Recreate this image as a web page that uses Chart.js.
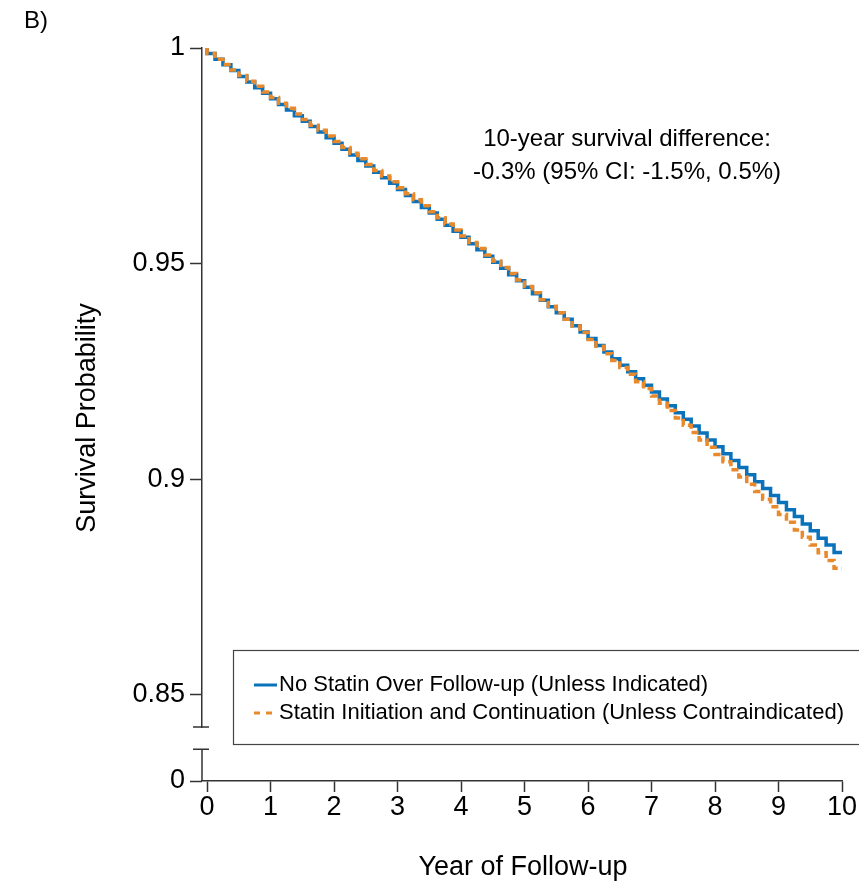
<!DOCTYPE html>
<html>
<head>
<meta charset="utf-8">
<script src="https://cdn.jsdelivr.net/npm/chart.js@4.4.1/dist/chart.umd.min.js"></script>
<style>
    body { margin: 0; background: #fff; }
    canvas { display: block; }
</style>
</head>
<body>
<canvas id="km" width="859" height="883"></canvas>
<script>
// follow-up times (years) where the curves step
const stepYears = [
    0, 0.125, 0.25, 0.375, 0.5, 0.625, 0.75, 0.875,
    1, 1.125, 1.25, 1.375, 1.5, 1.625, 1.75, 1.875,
    2, 2.125, 2.25, 2.375, 2.5, 2.625, 2.75, 2.875,
    3, 3.125, 3.25, 3.375, 3.5, 3.625, 3.75, 3.875,
    4, 4.125, 4.25, 4.375, 4.5, 4.625, 4.75, 4.875,
    5, 5.125, 5.25, 5.375, 5.5, 5.625, 5.75, 5.875,
    6, 6.125, 6.25, 6.375, 6.5, 6.625, 6.75, 6.875,
    7, 7.125, 7.25, 7.375, 7.5, 7.625, 7.75, 7.875,
    8, 8.125, 8.25, 8.375, 8.5, 8.625, 8.75, 8.875,
    9, 9.125, 9.25, 9.375, 9.5, 9.625, 9.75, 9.875,
    10
];

// survival
const noStatin = [
    1.0000, 0.9987, 0.9974, 0.9961, 0.9948, 0.9934, 0.9921, 0.9908,
    0.9895, 0.9882, 0.9869, 0.9856, 0.9843, 0.9830, 0.9818, 0.9805,
    0.9792, 0.9779, 0.9765, 0.9752, 0.9739, 0.9726, 0.9712, 0.9699,
    0.9686, 0.9672, 0.9658, 0.9644, 0.9630, 0.9617, 0.9603, 0.9589,
    0.9575, 0.9561, 0.9546, 0.9532, 0.9517, 0.9503, 0.9489, 0.9474,
    0.9460, 0.9445, 0.9430, 0.9415, 0.9400, 0.9386, 0.9371, 0.9356,
    0.9341, 0.9326, 0.9310, 0.9295, 0.9279, 0.9264, 0.9249, 0.9233,
    0.9218, 0.9202, 0.9186, 0.9170, 0.9154, 0.9139, 0.9123, 0.9107,
    0.9091, 0.9075, 0.9059, 0.9043, 0.9027, 0.9010, 0.8994, 0.8978,
    0.8962, 0.8946, 0.8929, 0.8913, 0.8896, 0.8880, 0.8863, 0.8847,
    0.8830
];
const statin = [
    1.0000, 0.9987, 0.9974, 0.9962, 0.9949, 0.9936, 0.9923, 0.9911,
    0.9898, 0.9885, 0.9872, 0.9860, 0.9847, 0.9834, 0.9821, 0.9809,
    0.9796, 0.9783, 0.9769, 0.9756, 0.9743, 0.9730, 0.9716, 0.9703,
    0.9690, 0.9676, 0.9662, 0.9648, 0.9634, 0.9620, 0.9606, 0.9592,
    0.9578, 0.9564, 0.9549, 0.9535, 0.9520, 0.9506, 0.9491, 0.9477,
    0.9462, 0.9447, 0.9432, 0.9416, 0.9401, 0.9386, 0.9371, 0.9355,
    0.9340, 0.9324, 0.9308, 0.9291, 0.9275, 0.9259, 0.9243, 0.9226,
    0.9210, 0.9193, 0.9176, 0.9159, 0.9142, 0.9125, 0.9108, 0.9091,
    0.9074, 0.9057, 0.9040, 0.9022, 0.9005, 0.8988, 0.8971, 0.8953,
    0.8936, 0.8918, 0.8900, 0.8882, 0.8865, 0.8847, 0.8829, 0.8811,
    0.8793
];

const xTicks = [0, 1, 2, 3, 4, 5, 6, 7, 8, 9, 10];
const yTicks = [0.85, 0.9, 0.95, 1];
const yLowTicks = [0];
const seriesLabels = [
    'No Statin Over Follow-up (Unless Indicated)',
    'Statin Initiation and Continuation (Unless Contraindicated)'
];
const noteLines = ['10-year survival difference:', '-0.3% (95% CI: -1.5%, 0.5%)'];

const BLUE = '#0a72ba';
const ORANGE = '#e8892c';
const AXIS = '#333333';
const FONT = 'Liberation Sans, Arial, sans-serif';
const tickFont = { family: FONT, size: 27 };

const toPoints = (vals) => vals.map((v, i) => ({ x: stepYears[i], y: v }));

const extras = {
    id: 'extras',
    afterDraw(chart) {
        const { ctx, chartArea, scales } = chart;
        const y2 = scales.y2;
        const axisX = chartArea.left;
        ctx.save();

        // lower axis segment + break marks
        const segTop = y2.getPixelForValue(0.59);
        ctx.strokeStyle = AXIS;
        ctx.lineWidth = 1.5;
        ctx.beginPath();
        ctx.moveTo(axisX, segTop);
        ctx.lineTo(axisX, chartArea.bottom);
        ctx.moveTo(axisX - 9, y2.top);
        ctx.lineTo(axisX + 7, y2.top);
        ctx.moveTo(axisX - 9, segTop);
        ctx.lineTo(axisX + 7, segTop);
        ctx.stroke();

        // panel label
        ctx.fillStyle = '#000';
        ctx.font = `24px ${FONT}`;
        ctx.textAlign = 'left';
        ctx.textBaseline = 'middle';
        ctx.fillText('B)', 24, 21);

        // axis titles
        ctx.font = `27px ${FONT}`;
        ctx.textAlign = 'center';
        ctx.fillText('Year of Follow-up', 523, 868);
        ctx.save();
        ctx.translate(88, 418);
        ctx.rotate(-Math.PI / 2);
        ctx.fillText('Survival Probability', 0, 0);
        ctx.restore();

        // note
        ctx.font = `24px ${FONT}`;
        ctx.textAlign = 'center';
        ctx.fillText(noteLines[0], 627, 139);
        ctx.fillText(noteLines[1], 627, 172);

        // legend box
        ctx.strokeStyle = '#444';
        ctx.lineWidth = 1.2;
        ctx.strokeRect(233.5, 650.5, 640, 94);
        const rows = [685, 713];
        chart.data.datasets.forEach((ds, i) => {
            ctx.strokeStyle = ds.borderColor;
            ctx.lineWidth = 3;
            ctx.setLineDash(ds.borderDash ? [6, 6] : []);
            ctx.beginPath();
            ctx.moveTo(254, rows[i]);
            ctx.lineTo(277, rows[i]);
            ctx.stroke();
            ctx.setLineDash([]);
            ctx.fillStyle = '#000';
            ctx.font = `22px ${FONT}`;
            ctx.textAlign = 'left';
            ctx.fillText(ds.label, 279, rows[i]);
        });
        ctx.restore();
    }
};

new Chart(document.getElementById('km').getContext('2d'), {
    type: 'line',
    data: {
        datasets: [
            {
                label: seriesLabels[0],
                data: toPoints(noStatin),
                borderColor: BLUE,
                borderWidth: 3.5,
                stepped: 'after',
                pointRadius: 0,
                yAxisID: 'y',
                order: 1,
            },
            {
                label: seriesLabels[1],
                data: toPoints(statin),
                borderColor: ORANGE,
                borderWidth: 3.5,
                borderDash: [7, 4],
                stepped: 'after',
                pointRadius: 0,
                yAxisID: 'y',
                order: 0,
            },
        ],
    },
    options: {
        responsive: false,
        animation: false,
        layout: { padding: { top: 48, right: 17, left: 0, bottom: 0 } },
        plugins: { legend: { display: false }, tooltip: { enabled: false } },
        scales: {
            x: {
                type: 'linear',
                min: -0.08,
                max: 10,
                afterBuildTicks: (s) => { s.ticks = xTicks.map((v) => ({ value: v })); },
                afterFit: (s) => { s.height = 102; },
                grid: { drawOnChartArea: false, tickLength: 11, color: AXIS, tickWidth: 1.5 },
                border: { color: AXIS, width: 1.5 },
                ticks: { font: tickFont, color: '#000', padding: -1, maxRotation: 0 },
            },
            y: {
                type: 'linear',
                position: 'left',
                stack: 'left',
                stackWeight: 679,
                weight: 1,
                min: 0.8425,
                max: 1,
                afterBuildTicks: (s) => { s.ticks = yTicks.map((v) => ({ value: v })); },
                afterFit: (s) => { s.width = 202; },
                grid: { drawOnChartArea: false, tickLength: 12, color: AXIS, tickWidth: 1.5 },
                border: { color: AXIS, width: 1.5 },
                ticks: {
                    font: tickFont,
                    color: '#000',
                    padding: 5,
                    callback: (v) => String(+v.toFixed(2)),
                },
            },
            y2: {
                type: 'linear',
                position: 'left',
                stack: 'left',
                stackWeight: 54,
                weight: 0,
                min: 0,
                max: 1,
                afterBuildTicks: (s) => { s.ticks = yLowTicks.map((v) => ({ value: v })); },
                afterFit: (s) => { s.width = 202; },
                grid: { drawOnChartArea: false, tickLength: 12, color: AXIS, tickWidth: 1.5 },
                border: { display: false },
                ticks: { font: tickFont, color: '#000', padding: 5 },
            },
        },
    },
    plugins: [extras],
});
</script>
</body>
</html>
